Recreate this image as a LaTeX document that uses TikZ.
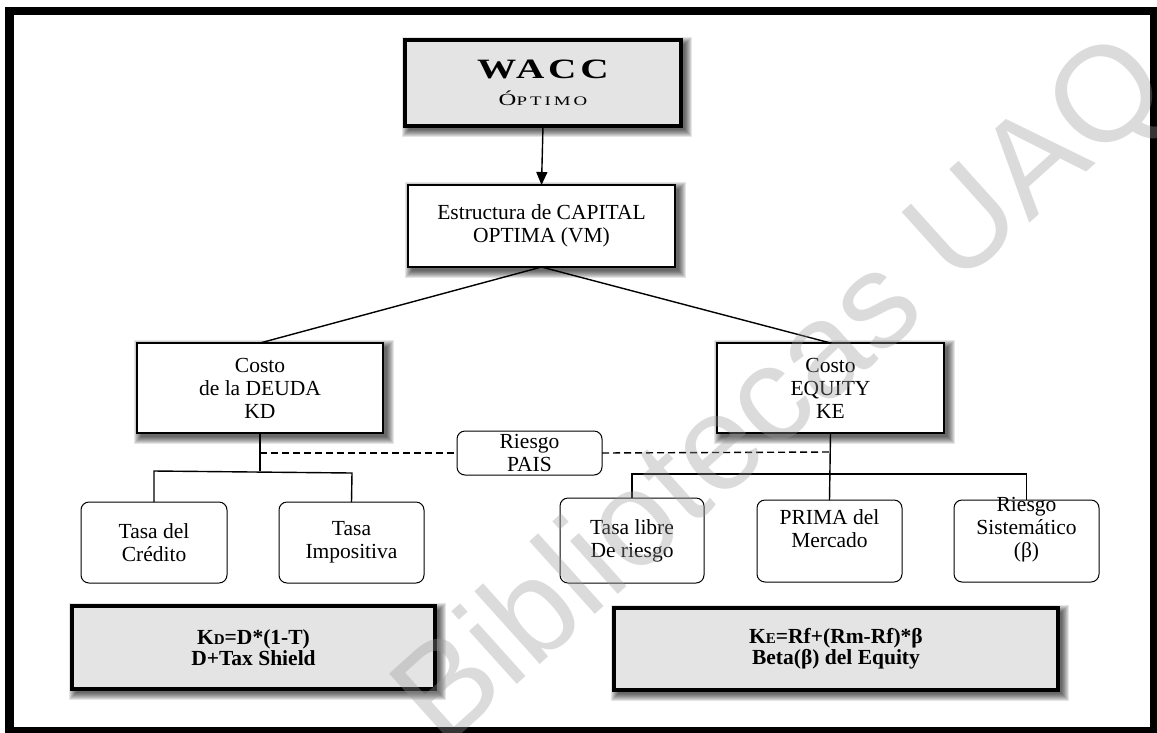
\documentclass[tikz,border=0pt]{standalone}
\usepackage{fontspec}
\usepackage{graphicx}
\setmainfont{Liberation Serif}
\newfontfamily\wmfont{Liberation Sans}
\usetikzlibrary{arrows.meta,calc,backgrounds}
\definecolor{boxgray}{HTML}{E4E4E4}
\begin{document}
\begin{tikzpicture}[x=1pt,y=-1pt,
  base/.style={inner sep=0pt, outer sep=0pt, align=center, font=\fontsize{21.5}{23}\selectfont},
  graybox/.style={base, draw=black, line width=3.5pt, fill=boxgray},
  plainbox/.style={base, draw=black, line width=2.2pt, fill=white},
  roundbox/.style={base, draw=black, line width=1pt, fill=white, rounded corners=8pt},
  boxtext/.style={base},
  link/.style={draw=black, line width=1.4pt},
  dlink/.style={link, dash pattern=on 7pt off 4pt},
  shadowlayer/.style={fill=black, opacity=0.1},
]
\useasboundingbox (0,0) rectangle (1157,732);

% top of the tree
\node[graybox, minimum width=276pt, minimum height=86pt] (wacc) at (543,83)
  {\raisebox{1pt}{\scalebox{1.4}[1]{\fontsize{28}{28}\selectfont\bfseries\addfontfeature{LetterSpace=10}WACC}}\\[3pt]
   \scalebox{1.45}[1]{\addfontfeature{LetterSpace=16}{\fontsize{17}{16}\selectfont Ó}{\fontsize{13}{16}\selectfont PTIMO}}};
\node[plainbox, minimum width=267pt, minimum height=82pt] (estr) at (541.5,226)
  {Estructura de CAPITAL\\OPTIMA (VM)};

% cost of debt and cost of equity
\node[plainbox, minimum width=246pt, minimum height=90pt] (kd) at (260,388) {Costo\\de la DEUDA\\KD};
\node[plainbox, minimum width=227pt, minimum height=90pt] (ke) at (830.5,388) {Costo\\EQUITY\\KE};
\node[roundbox, minimum width=145pt, minimum height=44pt] (pais) at (529.5,453) {Riesgo\\PAIS};

% components
\node[roundbox, minimum width=146pt, minimum height=81pt] (credito) at (154,542.5) {Tasa del\\Crédito};
\node[roundbox, minimum width=145pt, minimum height=81pt] (impos) at (351.5,542.5) {Tasa\\Impositiva};
\node[roundbox, minimum width=144pt, minimum height=85pt] (libre) at (632,540.5) {Tasa libre\\De riesgo};
\node[roundbox, minimum width=145pt, minimum height=82pt] (prima) at (829.5,541) {};
\node[boxtext] (primatxt) at (829.5,529) {PRIMA del\\Mercado};
\node[roundbox, minimum width=145pt, minimum height=82pt] (sist) at (1026.5,541) {};
\node[boxtext] (sisttxt) at (1026.5,530) {Riesgo\\Sistemático\\(β)};

% formulas
\node[graybox, minimum width=363pt, minimum height=83pt, font=\fontsize{21.5}{21}\selectfont\bfseries] (kdf) at (253.5,647.5)
  {K{\fontsize{15}{15}\selectfont D}=D*(1-T)\\D+Tax Shield};
\node[graybox, minimum width=444pt, minimum height=82pt, font=\fontsize{21.5}{21}\selectfont\bfseries] (kef) at (836,649)
  {K{\fontsize{15}{15}\selectfont E}=Rf+(Rm-Rf)*β\\Beta(β) del Equity};

% soft shadows behind the square boxes
\begin{pgfonlayer}{background}
  \fill[white] (0,0) rectangle (1157,732);
  \foreach \n in {wacc,estr,kd,ke,kdf,kef}{
    \foreach \r in {0,...,7}{
      \fill[shadowlayer] ($(\n.north west)+(4-\r,4-\r)$) rectangle ($(\n.south east)+(4+\r,4+\r)$);
    }
  }
\end{pgfonlayer}

% connectors
\draw[link, -{Triangle[width=11pt,length=13pt]}] (wacc.south) -- (estr.north);
\draw[link] (estr.south) -- (kd.north);
\draw[link] (estr.south) -- (ke.north);

\coordinate (kdj) at (260,471);
\coordinate (kdl) at (154,471);
\coordinate (kdr) at (352,473);
\coordinate (kdd) at (260,453);
\draw[link] (kd.south) -- (kdj);
\draw[link] (credito.north) -- (kdl) -- (kdr) -- (impos.north);

\coordinate (ked) at (830.5,452);
\coordinate (kel) at (632,474);
\coordinate (ker) at (1026.5,474);
\draw[link] (ke.south) -- (prima.north);
\draw[link] (libre.north) -- (kel) -- (ker) -- (sist.north);

\draw[dlink] (kdd) -- (pais.west);
\draw[dlink] (pais.east) -- (ked);

% outer frame
\draw[line width=8.5pt] (9.5,11) rectangle (1154,731.5);

% watermark
\node[rotate=42, font=\wmfont\fontsize{135}{135}\selectfont, text=black!40, opacity=0.35, inner sep=0pt] (wm) at (785,395) {Bibliotecas UAQ};
\end{tikzpicture}
\end{document}
